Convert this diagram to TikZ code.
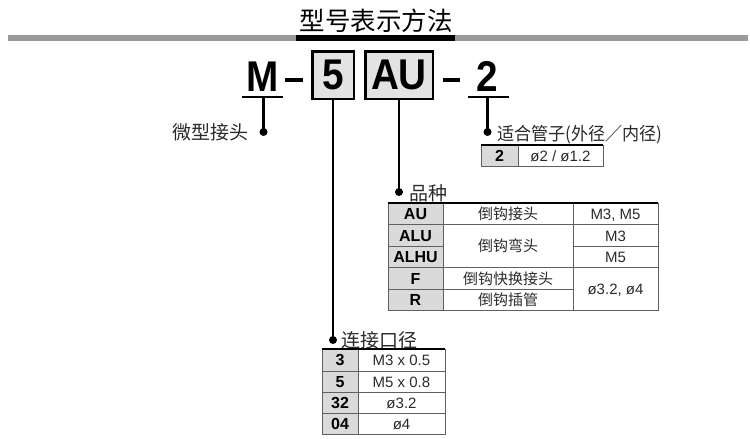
\documentclass[tikz,border=0pt]{standalone}
\usepackage{fontspec}
\setmainfont{Liberation Sans}
\newfontfamily\cjk{Noto Sans CJK SC}
\definecolor{bargray}{HTML}{9A9A9A}
\definecolor{boxgray}{HTML}{E3E3E3}
\definecolor{cellgray}{HTML}{DADADA}
\definecolor{gridgray}{HTML}{606060}
\definecolor{txtgray}{HTML}{2A2A2A}
\begin{document}
\begin{tikzpicture}[x=1pt,y=-1pt,
  bigtxt/.style={font=\fontsize{43}{43}\selectfont\bfseries, inner sep=0pt, anchor=base},
  codebox/.style={draw=black, line width=2.5pt, fill=boxgray, minimum height=47.5pt, inner sep=0pt, font=\fontsize{43}{43}\selectfont\bfseries},
  conn/.style={line width=2.2pt},
  uline/.style={line width=2.2pt},
  dashln/.style={line width=3.8pt},
  dotnode/.style={circle, fill=black, inner sep=0pt, minimum size=8pt},
  lblw/.style={font=\cjk\fontsize{19}{19}\selectfont, text=txtgray, anchor=base west, inner sep=0pt},
  lble/.style={font=\cjk\fontsize{19}{19}\selectfont, text=txtgray, anchor=base east, inner sep=0pt},
  titletxt/.style={font=\cjk\fontsize{25.5}{25.5}\selectfont, inner sep=0pt, anchor=base},
  codetxt/.style={font=\fontsize{16}{16}\selectfont\bfseries, anchor=base, inner sep=0pt},
  valtxt/.style={font=\fontsize{15}{15}\selectfont, text=txtgray, anchor=base, inner sep=0pt},
  cjktxt/.style={font=\cjk\fontsize{15}{15}\selectfont, text=txtgray, anchor=base, inner sep=0pt},
  grid/.style={draw=gridgray, line width=0.9pt},
  topline/.style={line width=2.2pt}
]
\useasboundingbox (0,0) rectangle (750,439);

% title and bar
\node[titletxt] (title) at (376,30.5) {型号表示方法};
\fill[bargray] (8,34.5) rectangle (748,41);
\fill[black] (296,34.5) rectangle (455,41);

% model code
\node[bigtxt] (m) at (263,91) {\scalebox{0.9}[1]{M}};
\node[codebox, minimum width=41.5pt] (b5) at (333,75) {\scalebox{0.9}[1]{5}};
\node[codebox, minimum width=67.5pt] (bau) at (399,75) {\scalebox{0.9}[1]{AU}};
\node[bigtxt] (two) at (487,91) {\scalebox{0.9}[1]{2}};
\coordinate (dA1) at (285,80); \coordinate (dA2) at (303,80);
\coordinate (dB1) at (443,80); \coordinate (dB2) at (460,80);
\draw[dashln] (dA1) -- (dA2);
\draw[dashln] (dB1) -- (dB2);
\coordinate (mu1) at (242,97); \coordinate (mu2) at (283,97); \coordinate (mu) at (263.5,97);
\coordinate (tu1) at (468,97); \coordinate (tu2) at (509,97); \coordinate (tu) at (487.5,97);
\draw[uline] (mu1) -- (mu2);
\draw[uline] (tu1) -- (tu2);

% dots and connectors
\node[dotnode] (d1) at (263.5,132) {};
\node[dotnode] (d2) at (333,340) {};
\node[dotnode] (d3) at (399,192) {};
\node[dotnode] (d4) at (487.5,132) {};
\draw[conn] (mu) -- (d1.center);
\draw[conn] (b5.south) -- (d2.center);
\draw[conn] (bau.south) -- (d3.center);
\draw[conn] (tu) -- (d4.center);

% labels
\node[lble] (l1) at (249,139.5) {微型接头};
\node[lblw, font=\cjk\fontsize{18}{18}\selectfont] (l4) at (497,140.5) {\scalebox{0.95}[1]{适合管子(外径／内径)}};
\node[lblw] (l3) at (409,200.5) {品种};
\node[lblw] (l2) at (341,347.5) {连接口径};

% table: tube
\fill[cellgray] (481,145) rectangle (518,166);
\draw[grid] (481,145) rectangle (603,166);
\draw[grid] (518,145) -- (518,166);
\draw[topline] (481,145) -- (603,145);
\node[codetxt] (t21) at (499.5,161.2) {2};
\node[valtxt] (t22) at (560.5,161.2) {ø2 / ø1.2};

% table: type
\fill[cellgray] (388,203) rectangle (443,310.5);
\draw[grid] (388,203) rectangle (658,310.5);
\draw[grid] (443,203) -- (443,310.5);
\draw[grid] (573,203) -- (573,310.5);
\draw[grid] (388,224.5) -- (658,224.5);
\draw[grid] (388,246) -- (443,246);
\draw[grid] (573,246) -- (658,246);
\draw[grid] (388,267.5) -- (658,267.5);
\draw[grid] (388,289) -- (573,289);
\draw[topline] (388,203) -- (658,203);
\node[codetxt] (k1) at (415.5,219.5) {AU};
\node[codetxt] (k2) at (415.5,241) {ALU};
\node[codetxt] (k3) at (415.5,262.5) {ALHU};
\node[codetxt] (k4) at (415.5,284) {F};
\node[codetxt] (k5) at (415.5,305.5) {R};
\node[cjktxt] (n1) at (508,219.5) {倒钩接头};
\node[cjktxt] (n2) at (508,251.7) {倒钩弯头};
\node[cjktxt] (n4) at (508,284) {倒钩快换接头};
\node[cjktxt] (n5) at (508,305.5) {倒钩插管};
\node[valtxt] (p1) at (615.5,219.5) {M3, M5};
\node[valtxt] (p2) at (615.5,241) {M3};
\node[valtxt] (p3) at (615.5,262.5) {M5};
\node[valtxt] (p4) at (615.5,294.7) {ø3.2, ø4};

% table: port size
\fill[cellgray] (322,349) rectangle (358,434.5);
\draw[grid] (322,349) rectangle (445,434.5);
\draw[grid] (358,349) -- (358,434.5);
\draw[grid] (322,371) -- (445,371);
\draw[grid] (322,392.5) -- (445,392.5);
\draw[grid] (322,413.5) -- (445,413.5);
\draw[topline] (322,349) -- (445,349);
\node[codetxt] (s1) at (340,365.7) {3};
\node[codetxt] (s2) at (340,387.5) {5};
\node[codetxt] (s3) at (340,408.7) {32};
\node[codetxt] (s4) at (340,429.7) {04};
\node[valtxt] (v1) at (401.5,365.7) {M3 x 0.5};
\node[valtxt] (v2) at (401.5,387.5) {M5 x 0.8};
\node[valtxt] (v3) at (401.5,408.7) {ø3.2};
\node[valtxt] (v4) at (401.5,429.7) {ø4};
\end{tikzpicture}
\end{document}
